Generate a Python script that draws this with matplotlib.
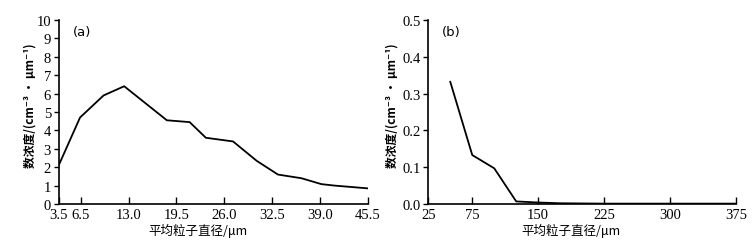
import matplotlib
matplotlib.use("Agg")
import matplotlib.pyplot as plt

# panel (a): small particles
dia_a = [3.5, 6.4, 9.6, 12.4, 18.2, 21.3, 23.5, 27.2, 30.4, 33.3, 36.5, 39.2, 41.0, 45.5]
conc_a = [2.1, 4.7, 5.9, 6.4, 4.55, 4.45, 3.6, 3.4, 2.35, 1.6, 1.4, 1.08, 1.0, 0.85]
xticks_a = [3.5, 6.5, 13.0, 19.5, 26.0, 32.5, 39.0, 45.5]
yticks_a = list(range(0, 11))

# panel (b): large particles
dia_b = [50, 75, 100, 125, 150, 175, 225, 300, 375]
conc_b = [0.332, 0.133, 0.097, 0.007, 0.004, 0.002, 0.001, 0.001, 0.001]
xticks_b = [25, 75, 150, 225, 300, 375]
yticks_b = [0.0, 0.1, 0.2, 0.3, 0.4, 0.5]

num_font = "Liberation Serif"
cjk = ["Noto Sans CJK SC", "DejaVu Sans"]
ylab = "数浓度/(cm⁻³ · μm⁻¹)"
xlab = "平均粒子直径/μm"

fig = plt.figure(figsize=(7.53, 2.51), dpi=100)
W, H = 753, 251
ax_a = fig.add_axes([58.7 / W, 1 - 205 / H, (367.7 - 58.7) / W, (205 - 21) / H])
ax_b = fig.add_axes([428.3 / W, 1 - 205 / H, (736 - 428.3) / W, (205 - 21) / H])


def style(ax, xt, xfmt, yt, yfmt, xlim, ylim, tag, xlab_x, ylab_x):
    ax.set_xlim(*xlim)
    ax.set_ylim(*ylim)
    for s in ("top", "right"):
        ax.spines[s].set_visible(False)
    for s in ("left", "bottom"):
        ax.spines[s].set_linewidth(1.2)
    ax.set_xticks(xt)
    ax.set_xticklabels([xfmt.format(v) for v in xt], fontfamily=num_font, fontsize=10.5)
    ax.set_yticks(yt)
    ax.set_yticklabels([yfmt.format(v) for v in yt], fontfamily=num_font, fontsize=10.5)
    ax.tick_params(axis="x", direction="in", length=5, width=1, pad=3)
    ax.tick_params(axis="y", direction="out", length=3.5, width=1, pad=2)
    ax.set_xlabel(xlab, family=cjk, fontsize=9)
    ax.set_ylabel(ylab, family=cjk, fontsize=8.5, fontweight="bold")
    ax.xaxis.set_label_coords(xlab_x, -0.1)
    ax.yaxis.set_label_coords(ylab_x, 0.54)
    ax.text(0.045, 0.975, tag, transform=ax.transAxes, fontfamily="DejaVu Sans",
            fontsize=9.5, va="top", ha="left")


ax_a.plot(dia_a, conc_a, color="black", lw=1.3)
style(ax_a, xticks_a, "{:.1f}", yticks_a, "{:d}", (3.5, 45.5), (0, 10), "(a)", 0.45, -0.073)

ax_b.plot(dia_b, conc_b, color="black", lw=1.3)
style(ax_b, xticks_b, "{:d}", yticks_b, "{:.1f}", (25, 375), (0, 0.5), "(b)", 0.464, -0.098)

fig.savefig("out.png", dpi=100)
